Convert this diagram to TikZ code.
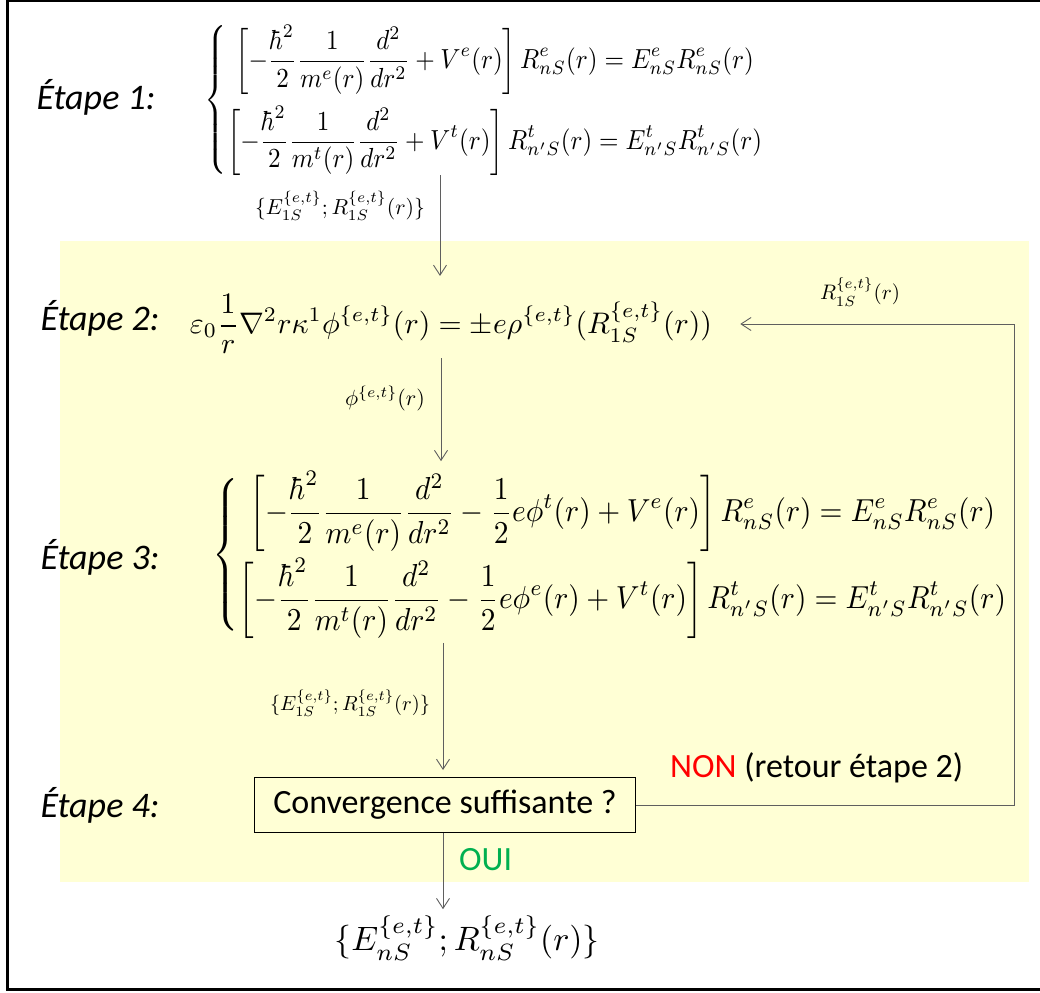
\documentclass[tikz,border=0pt]{standalone}
\usepackage{fontspec}
\setmainfont{Carlito}
\usepackage{amsmath}
\usepackage{graphicx}
\usetikzlibrary{arrows.meta,calc}
\definecolor{bgyellow}{RGB}{255,255,213}
\definecolor{arrgray}{RGB}{95,95,95}
\definecolor{ouigreen}{RGB}{0,176,80}
\definecolor{nonred}{RGB}{255,0,0}
\begin{document}
\begin{tikzpicture}[x=1pt,y=-1pt,
  etape/.style={font=\fontsize{36}{42}\selectfont\itshape, inner sep=0pt},
  eqn/.style={inner sep=0pt},
  lbl/.style={inner sep=0pt},
  arr/.style={draw=arrgray, line width=0.9pt, -{Straight Barb[length=10pt,width=13pt,line width=0.9pt]}},
  convbox/.style={draw=black, line width=1pt, minimum width=381pt, minimum height=55pt, inner sep=0pt, font=\fontsize{34}{40}\selectfont},
  plain/.style={inner sep=0pt, font=\fontsize{34}{40}\selectfont}]
\useasboundingbox (0,0) rectangle (1040,992);
\fill[bgyellow] (60,241) rectangle (1029,882);
\draw[line width=3pt] (7,0.5) rectangle (1070,989.5);

% Step labels
\node[etape] (et1) at (96,97) {Étape 1:};
\node[etape] (et2) at (100,318) {Étape 2:};
\node[etape] (et3) at (100,557) {Étape 3:};
\node[etape] (et4) at (100,805) {Étape 4:};

% Equations
\node[eqn] (eq1) at (485,100) {\resizebox{560pt}{!}{\scalebox{1}[1.1]{$\left\{\begin{array}{@{}c@{}}
\displaystyle\left[-\frac{\hbar^2}{2}\frac{1}{m^e(r)}\frac{d^2}{dr^2}+V^e(r)\right]R^e_{nS}(r)=E^e_{nS}R^e_{nS}(r)\\[10pt]
\displaystyle\left[-\frac{\hbar^2}{2}\frac{1}{m^t(r)}\frac{d^2}{dr^2}+V^t(r)\right]R^t_{n'S}(r)=E^t_{n'S}R^t_{n'S}(r)
\end{array}\right.$}}};

\node[eqn] (eq2) at (451,324) {\resizebox{522pt}{!}{$\displaystyle\varepsilon_0\frac{1}{r}\nabla^2 r\kappa^1\phi^{\{e,t\}}(r)=\pm e\rho^{\{e,t\}}(R^{\{e,t\}}_{1S}(r))$}};

\node[eqn] (eq3) at (611,555) {\resizebox{797pt}{!}{\scalebox{1}[1.08]{$\left\{\begin{array}{@{}c@{}}
\displaystyle\left[-\frac{\hbar^2}{2}\frac{1}{m^e(r)}\frac{d^2}{dr^2}-\frac{1}{2}e\phi^t(r)+V^e(r)\right]R^e_{nS}(r)=E^e_{nS}R^e_{nS}(r)\\[8pt]
\displaystyle\left[-\frac{\hbar^2}{2}\frac{1}{m^t(r)}\frac{d^2}{dr^2}-\frac{1}{2}e\phi^e(r)+V^t(r)\right]R^t_{n'S}(r)=E^t_{n'S}R^t_{n'S}(r)
\end{array}\right.$}}};

\node[convbox] (box) at (445,805) {Convergence suffisante ?};

\node[eqn] (fin) at (467,938) {\resizebox{265pt}{!}{$\{E^{\{e,t\}}_{nS};R^{\{e,t\}}_{nS}(r)\}$}};

% Arrow labels
\node[lbl] (l1) at (340,206) {\resizebox{170pt}{!}{$\{E^{\{e,t\}}_{1S};R^{\{e,t\}}_{1S}(r)\}$}};
\node[lbl] (l2) at (385,398) {\resizebox{80pt}{!}{$\phi^{\{e,t\}}(r)$}};
\node[lbl] (l3) at (350,703) {\resizebox{160pt}{!}{$\{E^{\{e,t\}}_{1S};R^{\{e,t\}}_{1S}(r)\}$}};
\node[lbl] (l4) at (860,292) {\resizebox{80pt}{!}{$R^{\{e,t\}}_{1S}(r)$}};
\node[plain, anchor=west] (non) at (670,768) {\textcolor{nonred}{NON} (retour étape 2)};
\node[plain, anchor=west] (oui) at (459,860) {\textcolor{ouigreen}{OUI}};

% Connectors
\coordinate (cA) at (440,0);
\coordinate (cB) at (441,0);
\coordinate (cC) at (443,0);
\coordinate (fb) at (1014,0);
\draw[arr] (eq1.south -| cA) -- ([yshift=18pt]eq2.north -| cA);
\draw[arr] ([yshift=-4pt]eq2.south -| cB) -- ([yshift=10pt]eq3.north -| cB);
\draw[arr] ([yshift=-4pt]eq3.south -| cC) -- ([yshift=7pt]box.north -| cC);
\draw[arr] (box.south -| cC) -- ([yshift=6pt]fin.north -| cC);
\draw[arr] (box.east) -| (fb |- eq2) -- ([xshift=28pt]eq2.east |- eq2);
\end{tikzpicture}
\end{document}
